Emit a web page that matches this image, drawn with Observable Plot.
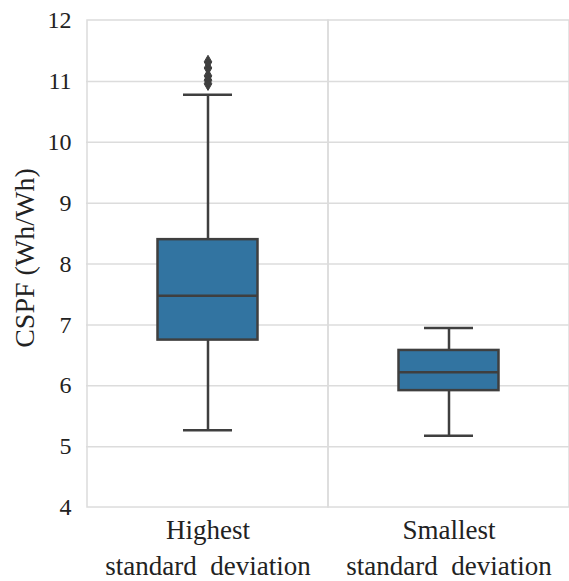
<!DOCTYPE html>
<html><head><meta charset="utf-8">
<script src="https://cdn.jsdelivr.net/npm/d3@7"></script>
<script src="https://cdn.jsdelivr.net/npm/@observablehq/plot@0.6"></script>
<style>body{margin:0;background:#fff;overflow:hidden;}</style>
</head><body><div id="chart"></div>
<script>
// Data
const categories = ["Highest\nstandard\u00a0 deviation", "Smallest\nstandard\u00a0 deviation"];
const whiskerLow = [5.27, 5.18];
const q1 = [6.75, 5.92];
const median = [7.48, 6.22];
const q3 = [8.40, 6.58];
const whiskerHigh = [10.78, 6.95];
const outlierCategory = [categories[0], categories[0], categories[0], categories[0], categories[0]];
const outlierValues = [10.96, 11.02, 11.09, 11.22, 11.32];
const yTicks = [4, 5, 6, 7, 8, 9, 10, 11, 12];
const yLabel = "CSPF (Wh/Wh)";

const boxes = categories.map((c, i) => ({
  cat: c, lo: whiskerLow[i], q1: q1[i], med: median[i], q3: q3[i], hi: whiskerHigh[i]
}));
const outliers = outlierValues.map((v, i) => ({cat: outlierCategory[i], v}));

const lineColor = "#3f3f3f";
const gridColor = "#dcdcdc";
const boxInset = 70.5;
const capInset = 96;

const chart = Plot.plot({
  width: 569,
  height: 581,
  marginLeft: 86,
  marginRight: 0,
  marginTop: 20,
  marginBottom: 74,
  style: {fontFamily: "'Liberation Serif', serif", color: "#222", background: "#fff"},
  x: {type: "band", domain: categories, padding: 0, label: null},
  y: {domain: [4, 12], label: null},
  marks: [
    Plot.ruleY(yTicks.slice(1, -1), {stroke: gridColor, strokeWidth: 1.5}),
    Plot.barY(categories, {x: d => d, y1: yTicks[0], y2: yTicks[yTicks.length - 1], fill: "none", stroke: gridColor, strokeWidth: 1.5}),
    Plot.ruleX(boxes, {x: "cat", y1: "lo", y2: "q1", stroke: lineColor, strokeWidth: 2.5}),
    Plot.ruleX(boxes, {x: "cat", y1: "q3", y2: "hi", stroke: lineColor, strokeWidth: 2.5}),
    Plot.tickY(boxes, {x: "cat", y: "lo", stroke: lineColor, strokeWidth: 2.5, insetLeft: capInset, insetRight: capInset}),
    Plot.tickY(boxes, {x: "cat", y: "hi", stroke: lineColor, strokeWidth: 2.5, insetLeft: capInset, insetRight: capInset}),
    Plot.barY(boxes, {x: "cat", y1: "q1", y2: "q3", fill: "#3274a1", stroke: lineColor, strokeWidth: 2.5, insetLeft: boxInset, insetRight: boxInset}),
    Plot.tickY(boxes, {x: "cat", y: "med", stroke: lineColor, strokeWidth: 2.5, insetLeft: boxInset, insetRight: boxInset}),
    Plot.dot(outliers, {x: "cat", y: "v", symbol: "diamond", r: 4, fill: lineColor, stroke: lineColor, strokeWidth: 1}),
    Plot.axisY({ticks: yTicks, tickSize: 0, tickPadding: 15, fontSize: 24, label: null}),
    Plot.axisX({tickSize: 0, tickPadding: 7, fontSize: 27, lineHeight: 1.3, label: null}),
    Plot.text([yLabel], {frameAnchor: "left", textAnchor: "middle", dx: -61, dy: -6, rotate: -90, fontSize: 28, fill: "#222"})
  ]
});
document.getElementById("chart").appendChild(chart);
</script>
</body></html>
